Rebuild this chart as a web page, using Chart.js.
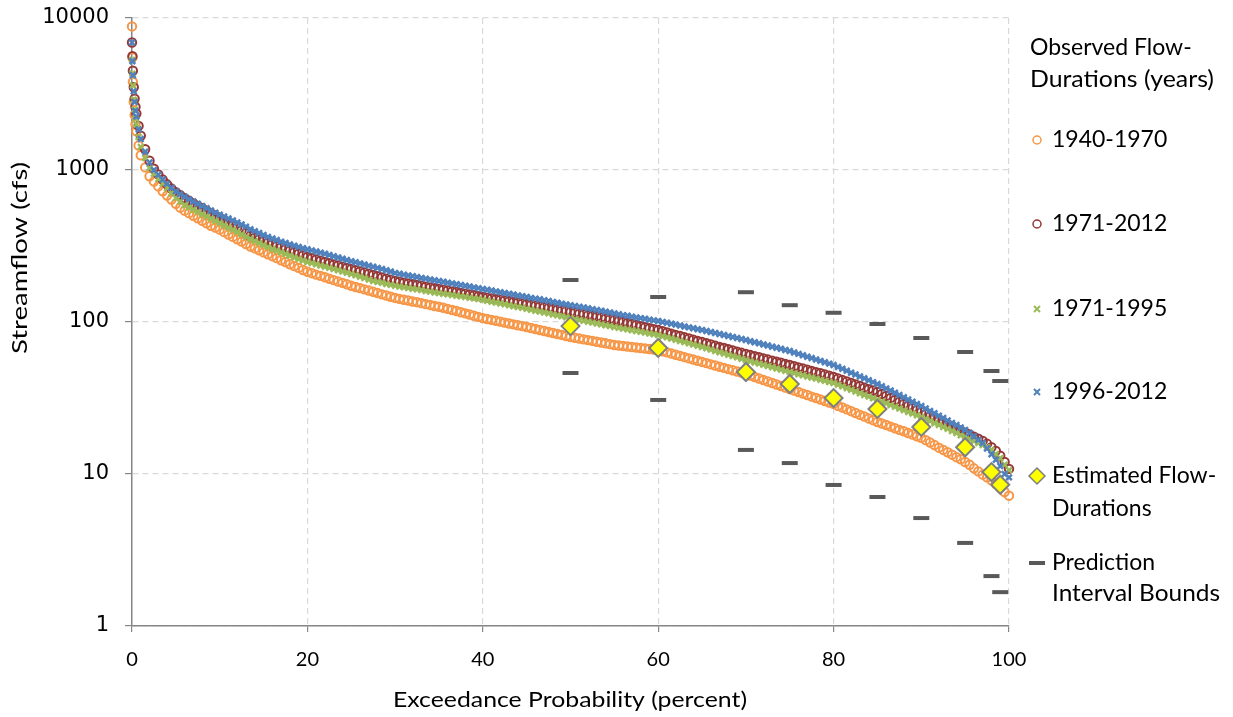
<!DOCTYPE html>
<html>
<head>
<meta charset="utf-8">
<title>Flow-duration curves</title>
<script src="https://cdn.jsdelivr.net/npm/chart.js@4.4.0/dist/chart.umd.min.js"></script>
<style>
  html, body { margin: 0; padding: 0; background: #fff; }
  #wrap { width: 1233px; height: 717px; }
</style>
</head>
<body>
<div id="wrap"><canvas id="fdc" width="1233" height="717"></canvas></div>
<script>
const exceedance = [
  0, 0.05, 0.1, 0.2, 0.3, 0.4, 0.5, 0.75,
  1, 1.5, 2, 2.5, 3, 3.5, 4, 4.5, 5, 5.5,
  6, 6.5, 7, 7.5, 8, 8.5, 9, 9.5, 10, 10.5,
  11, 11.5, 12, 12.5, 13, 13.5, 14, 14.5, 15, 15.5,
  16, 16.5, 17, 17.5, 18, 18.5, 19, 19.5, 20, 20.5,
  21, 21.5, 22, 22.5, 23, 23.5, 24, 24.5, 25, 25.5,
  26, 26.5, 27, 27.5, 28, 28.5, 29, 29.5, 30, 30.5,
  31, 31.5, 32, 32.5, 33, 33.5, 34, 34.5, 35, 35.5,
  36, 36.5, 37, 37.5, 38, 38.5, 39, 39.5, 40, 40.5,
  41, 41.5, 42, 42.5, 43, 43.5, 44, 44.5, 45, 45.5,
  46, 46.5, 47, 47.5, 48, 48.5, 49, 49.5, 50, 50.5,
  51, 51.5, 52, 52.5, 53, 53.5, 54, 54.5, 55, 55.5,
  56, 56.5, 57, 57.5, 58, 58.5, 59, 59.5, 60, 60.5,
  61, 61.5, 62, 62.5, 63, 63.5, 64, 64.5, 65, 65.5,
  66, 66.5, 67, 67.5, 68, 68.5, 69, 69.5, 70, 70.5,
  71, 71.5, 72, 72.5, 73, 73.5, 74, 74.5, 75, 75.5,
  76, 76.5, 77, 77.5, 78, 78.5, 79, 79.5, 80, 80.5,
  81, 81.5, 82, 82.5, 83, 83.5, 84, 84.5, 85, 85.5,
  86, 86.5, 87, 87.5, 88, 88.5, 89, 89.5, 90, 90.5,
  91, 91.5, 92, 92.5, 93, 93.5, 94, 94.5, 95, 95.5,
  96, 96.5, 97, 97.5, 98, 98.5, 99, 99.5, 100
];

// observed streamflow (cfs), one value per exceedance entry
const flow1940_1970 = [
  8800, 5500, 3800, 2800, 2300, 2000, 1800, 1450,
  1250, 1040, 910, 840, 780, 725, 680, 640, 600, 565,
  540, 520, 500, 481, 463, 446, 430, 418, 405, 390,
  376, 363, 350, 338, 326, 314, 305, 296, 287, 279,
  271, 263, 255, 248, 240, 233, 227, 220, 214, 209.5,
  205, 201, 197, 192.5, 188.5, 184.5, 181, 177, 173, 170,
  167, 164, 161, 158, 155, 152, 149.5, 146.5, 144, 142,
  140, 138.5, 136.5, 135, 133, 131, 129.5, 127.5, 126, 124,
  122, 120, 118, 116, 114, 112, 110, 108, 106, 104.6,
  103.2, 101.8, 100.5, 99.1, 97.8, 96.5, 95.2, 93.9, 92.7, 91.3,
  89.9, 88.6, 87.3, 86.0, 84.7, 83.4, 82.2, 80.9, 79.7, 78.7,
  77.8, 76.9, 76.0, 75.1, 74.2, 73.3, 72.4, 71.5, 70.6, 70.1,
  69.5, 69.0, 68.5, 67.9, 67.4, 66.9, 66.4, 65.9, 65.4, 64.2,
  63.1, 62.0, 60.9, 59.8, 58.7, 57.6, 56.6, 55.6, 54.6, 53.6,
  52.6, 51.7, 50.8, 49.9, 49.0, 48.1, 47.2, 46.4, 45.5, 44.5,
  43.5, 42.5, 41.5, 40.6, 39.7, 38.8, 37.9, 37.0, 36.2, 35.4,
  34.6, 33.8, 33.1, 32.3, 31.6, 30.9, 30.2, 29.5, 28.9, 28.1,
  27.4, 26.6, 25.9, 25.2, 24.5, 23.9, 23.2, 22.6, 22.0, 21.5,
  21.0, 20.5, 20.0, 19.5, 19.1, 18.6, 18.2, 17.7, 17.3, 16.7,
  16.1, 15.5, 14.9, 14.4, 13.9, 13.4, 12.9, 12.5, 12.0, 11.5,
  10.9, 10.4, 9.9, 9.5, 9.1, 8.6, 8.1, 7.6, 7.2
];

const flow1971_2012 = [
  6900, 5600, 4500, 3500, 2950, 2600, 2350, 1950,
  1680, 1370, 1150, 1020, 935, 865, 805, 755, 715, 682,
  653, 627, 603, 581, 560, 540, 520, 502, 485, 468,
  452, 436, 420, 403, 385, 368, 359, 350, 341, 333,
  325, 317, 309.5, 302, 295, 288, 281, 274.5, 268, 263,
  258, 253.5, 248.5, 244, 239.5, 235.5, 231, 227, 223, 219,
  215, 211.5, 207.5, 204, 200, 196.5, 193, 189.5, 186, 184,
  181.5, 179.5, 177.5, 175.5, 173.5, 171, 169, 167, 165, 163,
  161, 159, 157.5, 155.5, 153.5, 152, 150, 148, 146, 144.5,
  143, 141.5, 140, 138.5, 137, 135.5, 134, 132.5, 131, 129.5,
  128, 126.5, 125, 123.5, 122, 120.5, 119, 118, 116.5, 115,
  113.5, 112.5, 111, 109.5, 108.5, 107, 105.5, 104.5, 103, 101.5,
  100, 98.5, 97, 95.5, 94, 92.5, 91, 89.8, 88.5, 86.9,
  85.3, 83.8, 82.3, 80.8, 79.3, 77.9, 76.5, 75.1, 73.8, 72.5,
  71.2, 69.9, 68.6, 67.4, 66.2, 65, 63.8, 62.7, 61.6, 60.6,
  59.6, 58.6, 57.6, 56.6, 55.7, 54.8, 53.9, 53.0, 52.1, 51.2,
  50.3, 49.4, 48.5, 47.6, 46.8, 46.0, 45.1, 44.3, 43.5, 42.5,
  41.5, 40.6, 39.7, 38.8, 37.9, 37.0, 36.2, 35.4, 34.6, 33.6,
  32.6, 31.6, 30.7, 29.8, 28.9, 28.0, 27.2, 26.4, 25.6, 24.8,
  24.0, 23.3, 22.6, 21.9, 21.2, 20.6, 19.9, 19.3, 18.7, 18.2,
  17.6, 17.1, 16.5, 15.8, 15.0, 14.2, 13.2, 12.0, 10.8
];

const flow1971_1995 = [
  5300, 4300, 3600, 2900, 2500, 2200, 2000, 1650,
  1420, 1200, 1030, 945, 873, 815, 761, 705, 654, 620,
  589, 569, 550, 531, 513, 496, 480, 464, 448, 433,
  418, 404, 391, 377, 364, 352, 341, 331, 321, 311,
  302, 295, 287, 280, 273, 266, 260, 254, 248, 244,
  240, 235, 231, 227, 223, 219, 215, 211, 207, 203,
  198.5, 194.5, 190, 186, 183.5, 181, 178, 175.5, 173, 171,
  169, 167.5, 165.5, 164, 162, 160, 158.5, 156.5, 155, 153.5,
  152, 150.5, 149, 147.5, 146, 144.5, 143, 141.5, 140, 138,
  136, 134.5, 132.5, 131, 129, 127, 125.5, 124, 122, 120.5,
  118.5, 117, 115.5, 114, 112, 110.5, 109, 107.5, 106, 104.5,
  103, 101.8, 100.5, 99.1, 97.8, 96.5, 95.2, 94, 92.7, 91.6,
  90.5, 89.4, 88.3, 87.2, 86.2, 85.1, 84.1, 83.1, 82.1, 80.6,
  79.2, 77.8, 76.4, 75, 73.7, 72.4, 71.1, 69.8, 68.5, 67.2,
  65.8, 64.5, 63.3, 62.0, 60.8, 59.6, 58.5, 57.3, 56.2, 55.2,
  54.2, 53.2, 52.3, 51.3, 50.4, 49.5, 48.6, 47.7, 46.9, 46.1,
  45.3, 44.6, 43.8, 43.1, 42.4, 41.7, 41.0, 40.3, 39.7, 38.7,
  37.7, 36.7, 35.8, 34.9, 34.0, 33.1, 32.3, 31.5, 30.7, 29.9,
  29.2, 28.4, 27.7, 27.0, 26.3, 25.6, 25.0, 24.3, 23.7, 23.0,
  22.3, 21.6, 21.0, 20.4, 19.8, 19.2, 18.6, 18.0, 17.5, 17.0,
  16.5, 16.0, 15.5, 15.0, 14.4, 13.5, 12.7, 11.5, 10.6
];

const flow1996_2012 = [
  6900, 5200, 4200, 3300, 2800, 2450, 2250, 1850,
  1600, 1320, 1120, 1000, 930, 865, 810, 765, 725, 695,
  668, 643, 620, 600, 580, 561, 542, 524, 508, 494,
  480, 466, 452, 438, 424, 408, 396, 385, 374, 363,
  354, 346, 338, 331, 324, 318, 312, 306, 301, 296,
  291, 286, 281, 276, 271, 266, 261, 256, 251, 247,
  243, 239, 235, 231, 227, 223, 219, 215, 210, 207.5,
  205, 202.5, 200, 197.5, 195, 193, 190.5, 188, 186, 184,
  181.5, 179.5, 177, 175, 173, 171, 169, 167, 165, 163,
  161, 159, 157, 155, 153.5, 151.5, 149.5, 148, 146, 144,
  142.5, 141, 139, 137.5, 135.5, 134, 132, 130.5, 129, 127.5,
  126, 124.5, 123, 121.5, 120, 118.5, 117, 115.5, 114, 112.5,
  111, 110, 108.5, 107, 106, 105, 103.5, 102.5, 101.5, 100,
  98.8, 97.4, 96.1, 94.8, 93.5, 92.2, 91, 89.7, 88.5, 87.2,
  85.9, 84.6, 83.3, 82.1, 80.9, 79.6, 78.5, 77.3, 76.1, 74.8,
  73.6, 72.4, 71.2, 70, 68.8, 67.7, 66.6, 65.5, 64.4, 63.0,
  61.7, 60.4, 59.1, 57.9, 56.7, 55.5, 54.3, 53.2, 52.1, 50.6,
  49.2, 47.8, 46.4, 45.1, 43.8, 42.6, 41.4, 40.2, 39.1, 37.8,
  36.6, 35.4, 34.2, 33.1, 32.0, 30.9, 29.9, 28.9, 28.0, 27.0,
  26.0, 25.1, 24.2, 23.4, 22.5, 21.7, 21.0, 20.2, 19.5, 18.6,
  17.7, 16.8, 16.0, 14.7, 13.5, 12.4, 11.3, 10.0, 9.5
];

// estimated flow-durations and their prediction interval bounds
const estimatedPct = [50, 60, 70, 75, 80, 85, 90, 95, 98, 99];
const estimatedFlow = [94, 67.5, 46.9, 39.1, 31.6, 26.8, 20.4, 15.0, 10.3, 8.5];
const upperBound = [189, 146, 157, 129, 115, 97, 78.5, 63.5, 47.6, 40.9];
const lowerBound = [46.2, 30.7, 14.4, 11.8, 8.47, 7.06, 5.13, 3.52, 2.13, 1.67];

const xTicks = [0, 20, 40, 60, 80, 100];
const yTicks = [1, 10, 100, 1000, 10000];

const seriesNames = ['1940-1970', '1971-2012', '1971-1995', '1996-2012'];
const legendTitle = ['Observed Flow-', 'Durations (years)'];
const estimatedName = ['Estimated Flow-', 'Durations'];
const boundsName = ['Prediction', 'Interval Bounds'];

const ORANGE = '#F79646';
const DKRED = '#953735';
const GREEN = '#9BBB59';
const BLUE = '#4F81BD';

function toPoints(xs, ys) {
  return xs.map((x, i) => ({ x: x, y: ys[i] }));
}

// text squeezed/stretched to the width it has in the original
function fitText(ctx, text, x, y, width) {
  const w = ctx.measureText(text).width;
  ctx.save();
  ctx.translate(x, y);
  ctx.scale(width / w, 1);
  ctx.fillText(text, 0, 0);
  ctx.restore();
}

// legend + axis titles, drawn where the original has them
const sideText = {
  id: 'sideText',
  afterDraw(chart) {
    const ctx = chart.ctx;
    ctx.save();
    ctx.fillStyle = '#000';
    ctx.textBaseline = 'middle';
    ctx.textAlign = 'center';

    // y axis title
    ctx.save();
    ctx.translate(20, 258);
    ctx.rotate(-Math.PI / 2);
    ctx.font = '21px Lato';
    fitText(ctx, 'Streamflow (cfs)', 0, 0, 192);
    ctx.restore();

    // x axis title
    ctx.font = '21px Lato';
    fitText(ctx, 'Exceedance Probability (percent)', 570, 700, 354);

    // legend
    ctx.textAlign = 'left';
    ctx.font = '23px Lato';
    ctx.fillText(legendTitle[0], 1030, 48);
    fitText(ctx, legendTitle[1], 1030, 80, 184);

    const mx = 1037, tx = 1052;
    const rows = [140, 224, 309, 392];
    // open circles
    ctx.lineWidth = 1.5;
    [ORANGE, DKRED].forEach((c, i) => {
      ctx.strokeStyle = c;
      ctx.beginPath();
      ctx.arc(mx, rows[i], 4, 0, Math.PI * 2);
      ctx.stroke();
    });
    // small crosses
    ctx.lineWidth = 2;
    [GREEN, BLUE].forEach((c, i) => {
      const y = rows[i + 2];
      ctx.strokeStyle = c;
      ctx.beginPath();
      ctx.moveTo(mx - 3, y - 3); ctx.lineTo(mx + 3, y + 3);
      ctx.moveTo(mx + 3, y - 3); ctx.lineTo(mx - 3, y + 3);
      ctx.stroke();
    });
    seriesNames.forEach((n, i) => ctx.fillText(n, tx, rows[i]));

    // diamond
    ctx.beginPath();
    ctx.moveTo(mx, 468); ctx.lineTo(mx + 8, 476);
    ctx.lineTo(mx, 484); ctx.lineTo(mx - 8, 476);
    ctx.closePath();
    ctx.fillStyle = '#FFFF00';
    ctx.fill();
    ctx.strokeStyle = '#7F7F7F';
    ctx.lineWidth = 1.5;
    ctx.stroke();
    ctx.fillStyle = '#000';
    ctx.fillText(estimatedName[0], tx, 476);
    ctx.fillText(estimatedName[1], tx, 509);

    // dash
    ctx.fillStyle = '#595959';
    ctx.fillRect(mx - 8, 561, 16, 4);
    ctx.fillStyle = '#000';
    ctx.fillText(boundsName[0], tx, 563);
    fitText(ctx, boundsName[1], tx, 594, 168);
    ctx.restore();
  }
};

const ctx = document.getElementById('fdc').getContext('2d');
const chart = new Chart(ctx, {
  type: 'scatter',
  data: {
    datasets: [
      {
        label: 'Prediction Interval Bounds',
        data: toPoints(estimatedPct, upperBound).concat(toPoints(estimatedPct, lowerBound)),
        pointStyle: 'line', pointRadius: 8, borderWidth: 4,
        borderColor: '#595959', backgroundColor: '#595959',
        order: 0, clip: false
      },
      {
        label: 'Estimated Flow-Durations',
        data: toPoints(estimatedPct, estimatedFlow),
        pointStyle: 'rectRot', pointRadius: 9, borderWidth: 2,
        borderColor: '#7F7F7F', backgroundColor: '#FFFF00',
        order: 1, clip: false
      },
      {
        label: seriesNames[3],
        data: toPoints(exceedance, flow1996_2012),
        pointStyle: 'crossRot', pointRadius: 4, borderWidth: 2.5,
        borderColor: BLUE, backgroundColor: BLUE,
        order: 2, clip: false
      },
      {
        label: seriesNames[2],
        data: toPoints(exceedance, flow1971_1995),
        pointStyle: 'crossRot', pointRadius: 4, borderWidth: 2.5,
        borderColor: GREEN, backgroundColor: GREEN,
        order: 3, clip: false
      },
      {
        label: seriesNames[1],
        data: toPoints(exceedance, flow1971_2012),
        pointStyle: 'circle', pointRadius: 4.2, borderWidth: 2,
        borderColor: DKRED, backgroundColor: 'rgba(0,0,0,0)',
        order: 4, clip: false
      },
      {
        label: seriesNames[0],
        data: toPoints(exceedance, flow1940_1970),
        pointStyle: 'circle', pointRadius: 4.2, borderWidth: 2,
        borderColor: ORANGE, backgroundColor: 'rgba(0,0,0,0)',
        order: 5, clip: false
      }
    ]
  },
  options: {
    responsive: false,
    animation: false,
    devicePixelRatio: 1,
    layout: { padding: { left: 0, right: 224, top: 18, bottom: 0 } },
    plugins: {
      legend: { display: false },
      tooltip: { enabled: false }
    },
    scales: {
      x: {
        type: 'linear',
        min: 0, max: 100,
        afterBuildTicks: (scale) => { scale.ticks = xTicks.map(v => ({ value: v })); },
        afterFit: (scale) => { scale.height = 91; scale.paddingLeft = 0; scale.paddingRight = 0; },
        ticks: {
          color: '#000',
          font: { family: 'Lato', size: 20 },
          padding: 16,
          maxRotation: 0
        },
        grid: {
          color: '#D9D9D9',
          lineWidth: 1.2,
          tickColor: '#868686',
          tickLength: 6,
          tickWidth: 1.2,
          tickBorderDash: []
        },
        border: { display: true, color: '#868686', width: 1.5, dash: [6, 4] }
      },
      y: {
        type: 'logarithmic',
        min: 1, max: 10000,
        afterBuildTicks: (scale) => { scale.ticks = yTicks.map(v => ({ value: v })); },
        afterFit: (scale) => { scale.width = 132; scale.paddingTop = 0; scale.paddingBottom = 0; },
        ticks: {
          color: '#000',
          font: { family: 'DejaVu Sans', size: 21 },
          padding: 16,
          callback: (v) => String(v)
        },
        grid: {
          color: '#D9D9D9',
          lineWidth: 1.2,
          tickColor: '#868686',
          tickLength: 7,
          tickWidth: 1.2,
          tickBorderDash: []
        },
        border: { display: true, color: '#868686', width: 1.5, dash: [6, 4] }
      }
    }
  },
  plugins: [sideText]
});
</script>
</body>
</html>
